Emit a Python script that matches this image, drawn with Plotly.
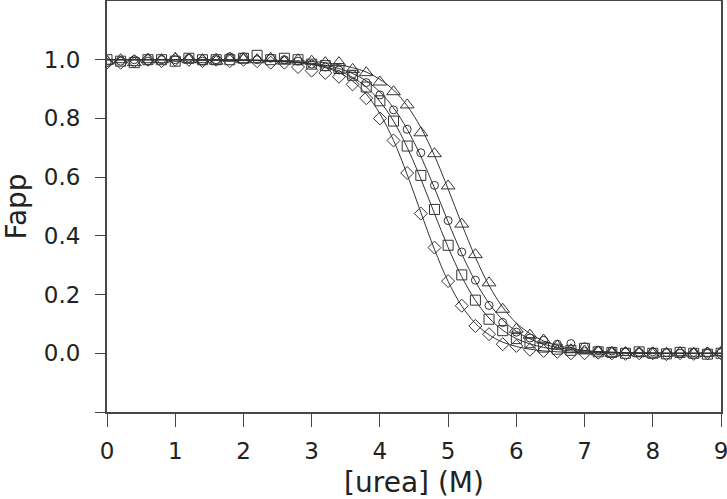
import plotly.graph_objects as go

urea = [0.0, 0.2, 0.4, 0.6, 0.8, 1.0, 1.2, 1.4, 1.6, 1.8,
        2.0, 2.2, 2.4, 2.6, 2.8, 3.0, 3.2, 3.4, 3.6, 3.8,
        4.0, 4.2, 4.4, 4.6, 4.8, 5.0, 5.2, 5.4, 5.6, 5.8,
        6.0, 6.2, 6.4, 6.6, 6.8, 7.0, 7.2, 7.4, 7.6, 7.8,
        8.0, 8.2, 8.4, 8.6, 8.8, 9.0]

# measured points
tri = [0.995, 1.0, 0.99, 1.0, 1.0, 1.005, 1.0, 1.0, 0.995, 1.005,
       1.0, 1.0, 1.005, 0.995, 1.0, 0.995, 0.99, 0.99, 0.967, 0.956,
       0.924, 0.891, 0.846, 0.751, 0.680, 0.570, 0.440, 0.336, 0.240, 0.150,
       0.082, 0.062, 0.045, 0.025, 0.012, 0.008, 0.005, 0.0, 0.003, 0.0,
       -0.003, 0.0, 0.002, -0.002, 0.0, 0.003]
circ = [0.99, 0.995, 1.0, 0.995, 1.0, 1.0, 1.005, 0.995, 1.0, 1.01,
        1.01, 1.0, 1.005, 1.0, 0.995, 0.985, 0.975, 0.965, 0.95, 0.922,
        0.88, 0.829, 0.763, 0.683, 0.572, 0.452, 0.345, 0.249, 0.163, 0.105,
        0.072, 0.052, 0.044, 0.031, 0.033, 0.022, 0.01, 0.008, 0.005, 0.003,
        0.005, 0.002, 0.0, 0.003, 0.0, 0.002]
sq = [1.0, 0.995, 0.99, 1.0, 1.0, 0.995, 1.005, 1.0, 1.0, 1.0,
      1.005, 1.015, 1.0, 1.005, 1.0, 0.985, 0.98, 0.97, 0.947, 0.907,
      0.86, 0.791, 0.706, 0.606, 0.49, 0.368, 0.267, 0.181, 0.116, 0.077,
      0.05, 0.036, 0.021, 0.014, 0.01, 0.017, 0.005, 0.003, 0.0, 0.005,
      0.0, -0.002, 0.003, 0.0, -0.003, 0.0]
dia = [0.99, 0.99, 0.995, 1.0, 0.995, 1.0, 1.0, 0.995, 1.0, 0.995,
       1.0, 0.995, 0.99, 0.99, 0.975, 0.963, 0.955, 0.942, 0.916, 0.869,
       0.80, 0.725, 0.614, 0.476, 0.36, 0.246, 0.162, 0.093, 0.065, 0.031,
       0.025, 0.012, 0.008, 0.005, 0.0, 0.0, 0.002, 0.0, -0.002, 0.0,
       0.0, -0.003, 0.0, -0.002, 0.0, 0.0]

# fitted curves
tri_fit = [1.0, 1.0, 1.0, 1.0, 1.0, 1.0, 1.0, 1.0, 0.999, 0.999,
           0.999, 0.998, 0.998, 0.997, 0.996, 0.994, 0.990, 0.983, 0.973, 0.958,
           0.933, 0.897, 0.843, 0.769, 0.673, 0.560, 0.440, 0.327, 0.231, 0.157,
           0.103, 0.067, 0.042, 0.027, 0.017, 0.010, 0.006, 0.004, 0.002, 0.001,
           0.001, 0.0, 0.0, 0.0, 0.0, 0.0]
circ_fit = [1.0, 1.0, 1.0, 1.0, 1.0, 1.0, 1.0, 0.999, 0.999, 0.999,
            0.998, 0.997, 0.996, 0.995, 0.992, 0.988, 0.981, 0.970, 0.953, 0.928,
            0.890, 0.836, 0.763, 0.671, 0.563, 0.448, 0.339, 0.245, 0.170, 0.114,
            0.075, 0.049, 0.031, 0.020, 0.013, 0.008, 0.005, 0.003, 0.002, 0.001,
            0.001, 0.0, 0.0, 0.0, 0.0, 0.0]
sq_fit = [1.0, 1.0, 1.0, 1.0, 1.0, 1.0, 1.0, 0.999, 0.999, 0.998,
          0.998, 0.997, 0.996, 0.994, 0.991, 0.985, 0.976, 0.962, 0.940, 0.907,
          0.858, 0.791, 0.701, 0.594, 0.476, 0.361, 0.261, 0.180, 0.120, 0.079,
          0.050, 0.032, 0.020, 0.013, 0.008, 0.005, 0.003, 0.002, 0.001, 0.001,
          0.0, 0.0, 0.0, 0.0, 0.0, 0.0]
dia_fit = [1.0, 1.0, 1.0, 1.0, 1.0, 1.0, 1.0, 0.999, 0.999, 0.999,
           0.999, 0.998, 0.997, 0.994, 0.990, 0.984, 0.973, 0.956, 0.927, 0.883,
           0.816, 0.725, 0.609, 0.480, 0.354, 0.245, 0.161, 0.102, 0.063, 0.038,
           0.023, 0.014, 0.008, 0.005, 0.003, 0.002, 0.001, 0.001, 0.0, 0.0,
           0.0, 0.0, 0.0, 0.0, 0.0, 0.0]

ink = "#333333"
axc = "#474747"
font = "DejaVu Sans, Verdana, sans-serif"

fig = go.Figure()
for fit in [tri_fit, circ_fit, sq_fit, dia_fit]:
    fig.add_trace(go.Scatter(x=urea, y=fit, mode="lines", line=dict(color=ink, width=1, shape="spline"),
                             showlegend=False, hoverinfo="skip"))

markers = [(tri, "triangle-up-open", 12), (circ, "circle-open", 8),
           (sq, "square-open", 10), (dia, "diamond-open", 10)]
for vals, sym, sz in markers:
    fig.add_trace(go.Scatter(x=urea, y=vals, mode="markers",
                             marker=dict(symbol=sym, size=sz, color=ink, line=dict(width=1, color=ink)),
                             showlegend=False))

fig.update_layout(
    width=727, height=499,
    margin=dict(l=107, r=6, t=1, b=87),
    plot_bgcolor="white", paper_bgcolor="white",
    font=dict(family=font, size=23, color="#222222"),
)
fig.update_xaxes(
    range=[0, 9], tickvals=[0, 1, 2, 3, 4, 5, 6, 7, 8, 9],
    showgrid=False, zeroline=False, automargin=False,
    showline=True, linecolor=axc, linewidth=2, mirror=True,
    ticks="outside", ticklen=13, tickwidth=1, tickcolor=axc,
    ticklabelstandoff=4, ticklabeloverflow="allow",
    title=dict(text="[urea] (M)", standoff=15),
)
fig.update_yaxes(
    range=[-0.2, 1.2], tickvals=[-0.2, 0.0, 0.2, 0.4, 0.6, 0.8, 1.0],
    ticktext=["", "0.0", "0.2", "0.4", "0.6", "0.8", "1.0"],
    showgrid=False, zeroline=False, automargin=False,
    showline=True, linecolor=axc, linewidth=2, mirror=True,
    ticks="outside", ticklen=10, tickwidth=1, tickcolor=axc,
    ticklabelstandoff=10,
    title=dict(text="Fapp", standoff=13),
)

# page body has a default 8px margin; drop it so the figure sits at the corner
fig.write_html("out.html", config={"displayModeBar": False},
               post_script="document.body.style.margin='0';")
